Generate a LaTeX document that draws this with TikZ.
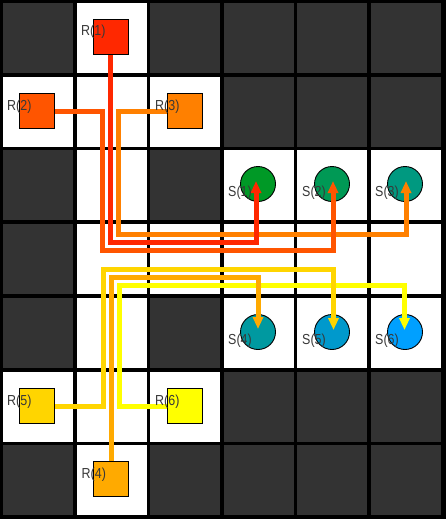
\documentclass[tikz,border=0pt]{standalone}
\usepackage{fontspec}
\newfontfamily\labfont[FakeStretch=0.86]{Liberation Sans}
\usetikzlibrary{arrows.meta}
\definecolor{cR1}{RGB}{255,40,0}
\definecolor{cR2}{RGB}{255,85,0}
\definecolor{cR3}{RGB}{255,128,0}
\definecolor{cR4}{RGB}{255,170,0}
\definecolor{cR5}{RGB}{255,213,0}
\definecolor{cR6}{RGB}{255,255,0}
\definecolor{cS1}{RGB}{0,153,38}
\definecolor{cS2}{RGB}{0,153,85}
\definecolor{cS3}{RGB}{0,153,128}
\definecolor{cS4}{RGB}{0,153,160}
\definecolor{cS5}{RGB}{0,153,204}
\definecolor{cS6}{RGB}{0,160,255}
\definecolor{wallc}{RGB}{51,51,51}
\tikzset{
  freecell/.style={fill=white},
  wallcell/.style={fill=wallc},
  robot/.style={draw=black, line width=0.9pt, minimum size=35pt, inner sep=0pt, outer sep=0pt},
  goal/.style={circle, draw=black, line width=0.9pt, minimum size=35pt, inner sep=0pt, outer sep=0pt},
  lab/.style={anchor=base west, inner sep=0pt, text=black!78, font=\labfont\fontsize{14.5}{15}\selectfont},
  pathline/.style={line width=5pt, -{Triangle[length=12pt,width=10pt]}}
}
\begin{document}
\begin{tikzpicture}[x=1pt,y=-1pt]
\useasboundingbox (0,0) rectangle (446,519);
\fill[black] (0,0) rectangle (446,519);
% grid cells: rows top to bottom, 1 = free, 0 = wall
\foreach \r/\row in {0/{0,1,0,0,0,0},1/{1,1,1,0,0,0},2/{0,1,0,1,1,1},3/{0,1,1,1,1,1},4/{0,1,0,1,1,1},5/{1,1,1,0,0,0},6/{0,1,0,0,0,0}}{
  \foreach \v [count=\c from 0] in \row {
    \pgfmathsetmacro{\xx}{3+73.6*\c}
    \pgfmathsetmacro{\yy}{3+73.7*\r}
    \ifnum\v=1
      \fill[freecell] (\xx,\yy) rectangle ++(70,70);
    \else
      \fill[wallcell] (\xx,\yy) rectangle ++(70,70);
    \fi
  }
}
% goals
\node[goal, fill=cS1] (s1) at (258,184) {};
\node[goal, fill=cS2] (s2) at (332,184) {};
\node[goal, fill=cS3] (s3) at (405,184) {};
\node[goal, fill=cS4] (s4) at (258,332) {};
\node[goal, fill=cS5] (s5) at (332,332) {};
\node[goal, fill=cS6] (s6) at (405,332) {};
% robot positions
\coordinate (r1c) at (110.5,36.5);
\coordinate (r2c) at (36.5,111);
\coordinate (r3c) at (184.5,111);
\coordinate (r4c) at (111,479);
\coordinate (r5c) at (36.5,406);
\coordinate (r6c) at (184.5,406);
% paths (drawn in reverse order)
\draw[pathline, cR6] (r6c) -| (119.5,285) -| ([shift={(-0.5,-2)}]s6.center);
\draw[pathline, cR5] (r5c) -| (103.5,269.5) -| ([shift={(1.5,-2)}]s5.center);
\draw[pathline, cR4] (r4c) |- (258,277) -- ([shift={(0,-3)}]s4.center);
\draw[pathline, cR3] (r3c) -| (118,234) -| ([shift={(1,-3)}]s3.center);
\draw[pathline, cR2] (r2c) -| (102.5,250) -| ([shift={(1,-3)}]s2.center);
\draw[pathline, cR1] (r1c) |- (256,242) -- ([shift={(-2,-3)}]s1.center);
% robots
\node[robot, fill=cR1] (r1) at (r1c) {};
\node[robot, fill=cR2] (r2) at (r2c) {};
\node[robot, fill=cR3] (r3) at (r3c) {};
\node[robot, fill=cR4] (r4) at (r4c) {};
\node[robot, fill=cR5] (r5) at (r5c) {};
\node[robot, fill=cR6] (r6) at (r6c) {};
% labels
\foreach \i in {1,...,6}{
  \node[lab] (lr\i) at ([shift={(-12,17)}]r\i.north west) {R(\i)};
  \node[lab] (ls\i) at ([shift={(-30,12.5)}]s\i.center) {S(\i)};
}
\end{tikzpicture}
\end{document}
